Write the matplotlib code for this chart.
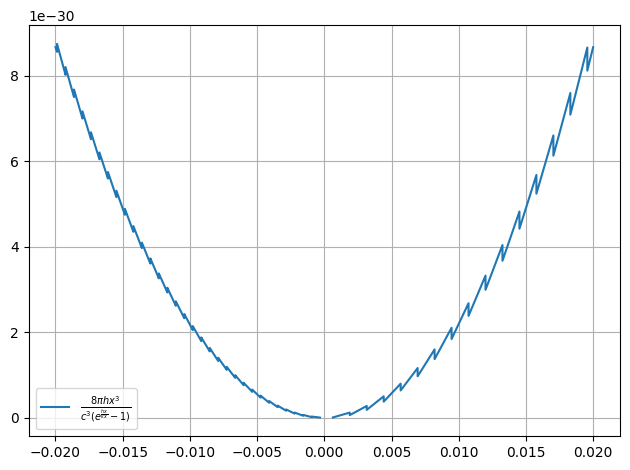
import numpy as np
import matplotlib
matplotlib.use('Agg')
import matplotlib.pyplot as plt

# Vertices of the curve (x in units of 1e-3, y in units of 1e-30)
# Left branch (x < 0): fine sawtooth, gap just left of zero
left_x = [-20.0,
          -19.884, -19.884, -19.253, -19.253, -18.622, -18.622, -17.991, -17.991,
          -17.359, -17.359, -16.728, -16.728, -16.097, -16.097, -15.466, -15.466,
          -14.834, -14.834, -14.203, -14.203, -13.572, -13.572, -12.941, -12.941,
          -12.309, -12.309, -11.678, -11.678, -11.047, -11.047, -10.416, -10.416,
          -9.784, -9.784, -9.153, -9.153, -8.522, -8.522, -7.891, -7.891,
          -7.259, -7.259, -6.628, -6.628, -5.997, -5.997, -5.366, -5.366,
          -4.734, -4.734, -4.103, -4.103, -3.472, -3.472, -2.841, -2.841,
          -2.209, -2.209, -1.578, -1.578, -0.947, -0.947,
          -0.32]
left_y = [8.669,
          8.562, 8.748, 8.024, 8.204, 7.504, 7.678, 7.001, 7.169,
          6.516, 6.678, 6.047, 6.205, 5.596, 5.748, 5.163, 5.309,
          4.747, 4.887, 4.349, 4.483, 3.968, 4.096, 3.605, 3.727,
          3.259, 3.375, 2.930, 3.040, 2.619, 2.723, 2.326, 2.424,
          2.049, 2.143, 1.790, 1.878, 1.549, 1.631, 1.325, 1.401,
          1.119, 1.189, 0.930, 0.994, 0.758, 0.816, 0.604, 0.656,
          0.468, 0.514, 0.348, 0.389, 0.246, 0.282, 0.162, 0.191,
          0.095, 0.119, 0.045, 0.064, 0.013, 0.026,
          0.001]

# Right branch (x > 0): coarse sawtooth, peak then drop at each tooth
right_x = [0.64,
           1.894, 1.894, 3.156, 3.156, 4.419, 4.419, 5.681, 5.681,
           6.944, 6.944, 8.206, 8.206, 9.469, 9.469, 10.731, 10.731,
           11.994, 11.994, 13.256, 13.256, 14.519, 14.519, 15.781, 15.781,
           17.044, 17.044, 18.306, 18.306, 19.569, 19.569,
           20.0]
right_y = [0.0045,
           0.118, 0.059, 0.273, 0.182, 0.499, 0.374, 0.795, 0.636,
           1.161, 0.968, 1.597, 1.369, 2.103, 1.840, 2.678, 2.381,
           3.324, 2.992, 4.039, 3.672, 4.824, 4.422, 5.679, 5.242,
           6.604, 6.132, 7.598, 7.091, 8.662, 8.121,
           8.669]

label = r'$\frac{8\pi h x^3}{c^3(e^{\frac{hx}{kx}}-1)}$'

# Join both branches with a NaN so the gap at zero stays open
x = np.concatenate([np.array(left_x), [np.nan], np.array(right_x)]) * 1e-3
y = np.concatenate([np.array(left_y), [np.nan], np.array(right_y)]) * 1e-30

plt.figure(figsize=(6.4, 4.8), dpi=100)
plt.plot(x, y, label=label)
plt.grid(True)
plt.legend(loc='lower left')
plt.tight_layout()
plt.savefig('out.png', bbox_inches='tight')
plt.close()
